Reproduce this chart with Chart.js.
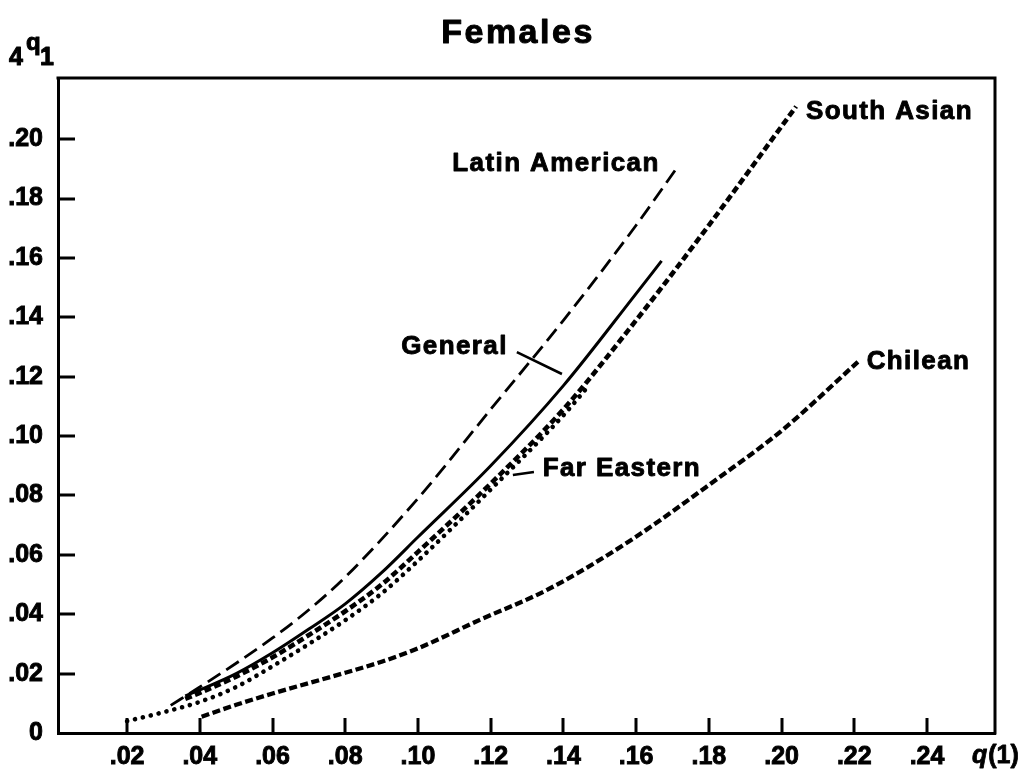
<!DOCTYPE html>
<html>
<head>
<meta charset="utf-8">
<script src="https://cdn.jsdelivr.net/npm/chart.js@4.4.1/dist/chart.umd.min.js"></script>
<style>
  html, body { margin: 0; padding: 0; background: #fff; }
  #wrap { width: 1027px; height: 777px; }
</style>
</head>
<body>
<div id="wrap"><canvas id="c" width="1027" height="777"></canvas></div>
<script>
// Axis ticks and their printed labels
const xTickValues = [0.02, 0.04, 0.06, 0.08, 0.10, 0.12, 0.14, 0.16, 0.18, 0.20, 0.22, 0.24];
const xTickLabels = ['.02', '.04', '.06', '.08', '.10', '.12', '.14', '.16', '.18', '.20', '.22', '.24'];
const yTickValues = [0, 0.02, 0.04, 0.06, 0.08, 0.10, 0.12, 0.14, 0.16, 0.18, 0.20];
const yTickLabels = ['0', '.02', '.04', '.06', '.08', '.10', '.12', '.14', '.16', '.18', '.20'];

// q(1) -> 4q1 curves, one pair of arrays per model pattern
const latinX   = [0.032, 0.04, 0.05, 0.06, 0.07, 0.08, 0.10, 0.12, 0.14, 0.16, 0.171];
const latinY   = [0.0093, 0.0155, 0.0235, 0.032, 0.0415, 0.0525, 0.079, 0.109, 0.139, 0.171, 0.190];

const generalX = [0.036, 0.04, 0.05, 0.06, 0.07, 0.08, 0.09, 0.10, 0.12, 0.14, 0.16, 0.167];
const generalY = [0.0125, 0.0145, 0.020, 0.027, 0.035, 0.0435, 0.054, 0.066, 0.090, 0.117, 0.148, 0.159];

const southAsianX = [0.036, 0.04, 0.05, 0.06, 0.07, 0.08, 0.09, 0.10, 0.12, 0.14, 0.16, 0.18, 0.204];
const southAsianY = [0.0115, 0.0135, 0.019, 0.0255, 0.033, 0.041, 0.050, 0.061, 0.084, 0.109, 0.139, 0.171, 0.211];

const farEasternX = [0.02, 0.03, 0.04, 0.05, 0.06, 0.07, 0.08, 0.09, 0.10, 0.12, 0.14, 0.147];
const farEasternY = [0.004, 0.007, 0.0105, 0.0155, 0.0225, 0.030, 0.038, 0.047, 0.058, 0.082, 0.107, 0.117];

const chileanX = [0.0405, 0.05, 0.06, 0.07, 0.08, 0.09, 0.10, 0.117, 0.1355, 0.158, 0.183, 0.20, 0.221];
const chileanY = [0.0055, 0.0095, 0.0133, 0.0168, 0.0203, 0.024, 0.0285, 0.0381, 0.0482, 0.0645, 0.0862, 0.1018, 0.125];

const pts = (xs, ys) => xs.map((x, i) => ({ x: x, y: ys[i] }));

const FONT = '"Liberation Sans", Arial, Helvetica, sans-serif';
const INK = '#000';

// Curve labels, placed in data units
const curveLabels = [
  { text: 'Latin American', x: 0.1665, y: 0.1916, align: 'right' },
  { text: 'South Asian',    x: 0.2067, y: 0.2092, align: 'left' },
  { text: 'Chilean',        x: 0.2234, y: 0.1250, align: 'left' },
  { text: 'General',        x: 0.1247, y: 0.1300, align: 'right' },
  { text: 'Far Eastern',    x: 0.1343, y: 0.0889, align: 'left' }
];
const leaderLines = [
  { x1: 0.1272, y1: 0.1283, x2: 0.1396, y2: 0.1209 },
  { x1: 0.1261, y1: 0.0869, x2: 0.1319, y2: 0.0879 }
];

// filled text with a thin outline so it reads as heavy bold
function heavyText(ctx, str, x, y, w) {
  ctx.lineWidth = w;
  ctx.lineJoin = 'round';
  ctx.strokeText(str, x, y);
  ctx.fillText(str, x, y);
}

const frameAndText = {
  id: 'frameAndText',
  afterDraw(chart) {
    const ctx = chart.ctx;
    const a = chart.chartArea;
    const xs = chart.scales.x, ys = chart.scales.y;
    ctx.save();
    ctx.strokeStyle = INK;
    ctx.fillStyle = INK;
    ctx.lineCap = 'butt';

    // top and right sides of the box
    ctx.lineWidth = 3;
    ctx.beginPath();
    ctx.moveTo(a.left - 1.5, a.top);
    ctx.lineTo(a.right, a.top);
    ctx.lineTo(a.right, a.bottom + 1.5);
    ctx.stroke();

    // inward tick marks
    ctx.beginPath();
    xTickValues.forEach(v => {
      const px = Math.round(xs.getPixelForValue(v));
      ctx.moveTo(px, a.bottom);
      ctx.lineTo(px, a.bottom - 15);
    });
    yTickValues.forEach(v => {
      if (v === 0) return;
      const py = Math.round(ys.getPixelForValue(v));
      ctx.moveTo(a.left, py);
      ctx.lineTo(a.left + 17, py);
    });
    ctx.stroke();

    // title
    ctx.letterSpacing = '2.5px';
    ctx.font = 'bold 34px ' + FONT;
    ctx.textAlign = 'center';
    ctx.textBaseline = 'alphabetic';
    heavyText(ctx, 'Females', 518, 43, 1);

    // y axis title: 4q1
    ctx.letterSpacing = '0px';
    ctx.textAlign = 'left';
    ctx.font = 'bold 25px ' + FONT;
    heavyText(ctx, '4', 9, 65, 1);
    ctx.font = 'bold 24px ' + FONT;
    heavyText(ctx, 'q', 26, 50, 1);
    ctx.font = 'bold 25px ' + FONT;
    heavyText(ctx, '1', 40, 65, 1);

    // x axis title: q(1)
    ctx.font = 'italic bold 25px ' + FONT;
    const qW = ctx.measureText('q').width;
    heavyText(ctx, 'q', 972, 763, 0.8);
    ctx.font = 'bold 25px ' + FONT;
    heavyText(ctx, '(1)', 972 + qW + 1, 763, 0.8);

    // curve labels
    ctx.font = 'bold 26px ' + FONT;
    ctx.letterSpacing = '1.4px';
    ctx.textBaseline = 'middle';
    curveLabels.forEach(l => {
      ctx.textAlign = l.align;
      heavyText(ctx, l.text, xs.getPixelForValue(l.x), ys.getPixelForValue(l.y), 0.9);
    });

    // leader lines
    ctx.lineWidth = 2.6;
    ctx.beginPath();
    leaderLines.forEach(s => {
      ctx.moveTo(xs.getPixelForValue(s.x1), ys.getPixelForValue(s.y1));
      ctx.lineTo(xs.getPixelForValue(s.x2), ys.getPixelForValue(s.y2));
    });
    ctx.stroke();
    ctx.restore();
  }
};

const tickFont = { family: FONT, size: 25, weight: 'bold' };

const chart = new Chart(document.getElementById('c'), {
  type: 'line',
  data: {
    datasets: [
      {
        label: 'Chilean',
        data: pts(chileanX, chileanY),
        borderColor: INK, borderWidth: 4.3,
        borderDash: [8, 3.5], cubicInterpolationMode: 'monotone'
      },
      {
        label: 'South Asian',
        data: pts(southAsianX, southAsianY),
        borderColor: INK, borderWidth: 4.6,
        borderDash: [7, 3.5], cubicInterpolationMode: 'monotone'
      },
      {
        label: 'Far Eastern',
        data: pts(farEasternX, farEasternY),
        borderColor: INK, borderWidth: 4.6,
        borderDash: [0.1, 8], borderCapStyle: 'round', cubicInterpolationMode: 'monotone'
      },
      {
        label: 'General',
        data: pts(generalX, generalY),
        borderColor: INK, borderWidth: 3, cubicInterpolationMode: 'monotone'
      },
      {
        label: 'Latin American',
        data: pts(latinX, latinY),
        borderColor: INK, borderWidth: 2.8,
        borderDash: [15, 7], cubicInterpolationMode: 'monotone'
      }
    ]
  },
  options: {
    responsive: false,
    devicePixelRatio: 1,
    animation: false,
    layout: { padding: { top: 78, right: 32, left: 0, bottom: 0 } },
    elements: { point: { radius: 0, hoverRadius: 0 } },
    plugins: { legend: { display: false }, title: { display: false }, tooltip: { enabled: false } },
    scales: {
      x: {
        type: 'linear',
        min: 0.001, max: 0.2587,
        afterFit: s => { s.height = 44; },
        afterBuildTicks: s => { s.ticks = xTickValues.map(v => ({ value: v })); },
        grid: { display: false, drawTicks: false },
        border: { display: true, color: INK, width: 3 },
        ticks: {
          autoSkip: false, maxRotation: 0, padding: 9, color: INK,
          textStrokeColor: INK, textStrokeWidth: 0.9,
          font: tickFont,
          callback: (v, i) => xTickLabels[i]
        }
      },
      y: {
        type: 'linear',
        min: 0, max: 0.2206,
        afterFit: s => { s.width = 58; },
        afterBuildTicks: s => { s.ticks = yTickValues.map(v => ({ value: v })); },
        grid: { display: false, drawTicks: false },
        border: { display: true, color: INK, width: 3 },
        ticks: {
          autoSkip: false, padding: 15, color: INK,
          textStrokeColor: INK, textStrokeWidth: 0.9,
          font: tickFont,
          callback: (v, i) => yTickLabels[i]
        }
      }
    }
  },
  plugins: [frameAndText]
});
</script>
</body>
</html>
